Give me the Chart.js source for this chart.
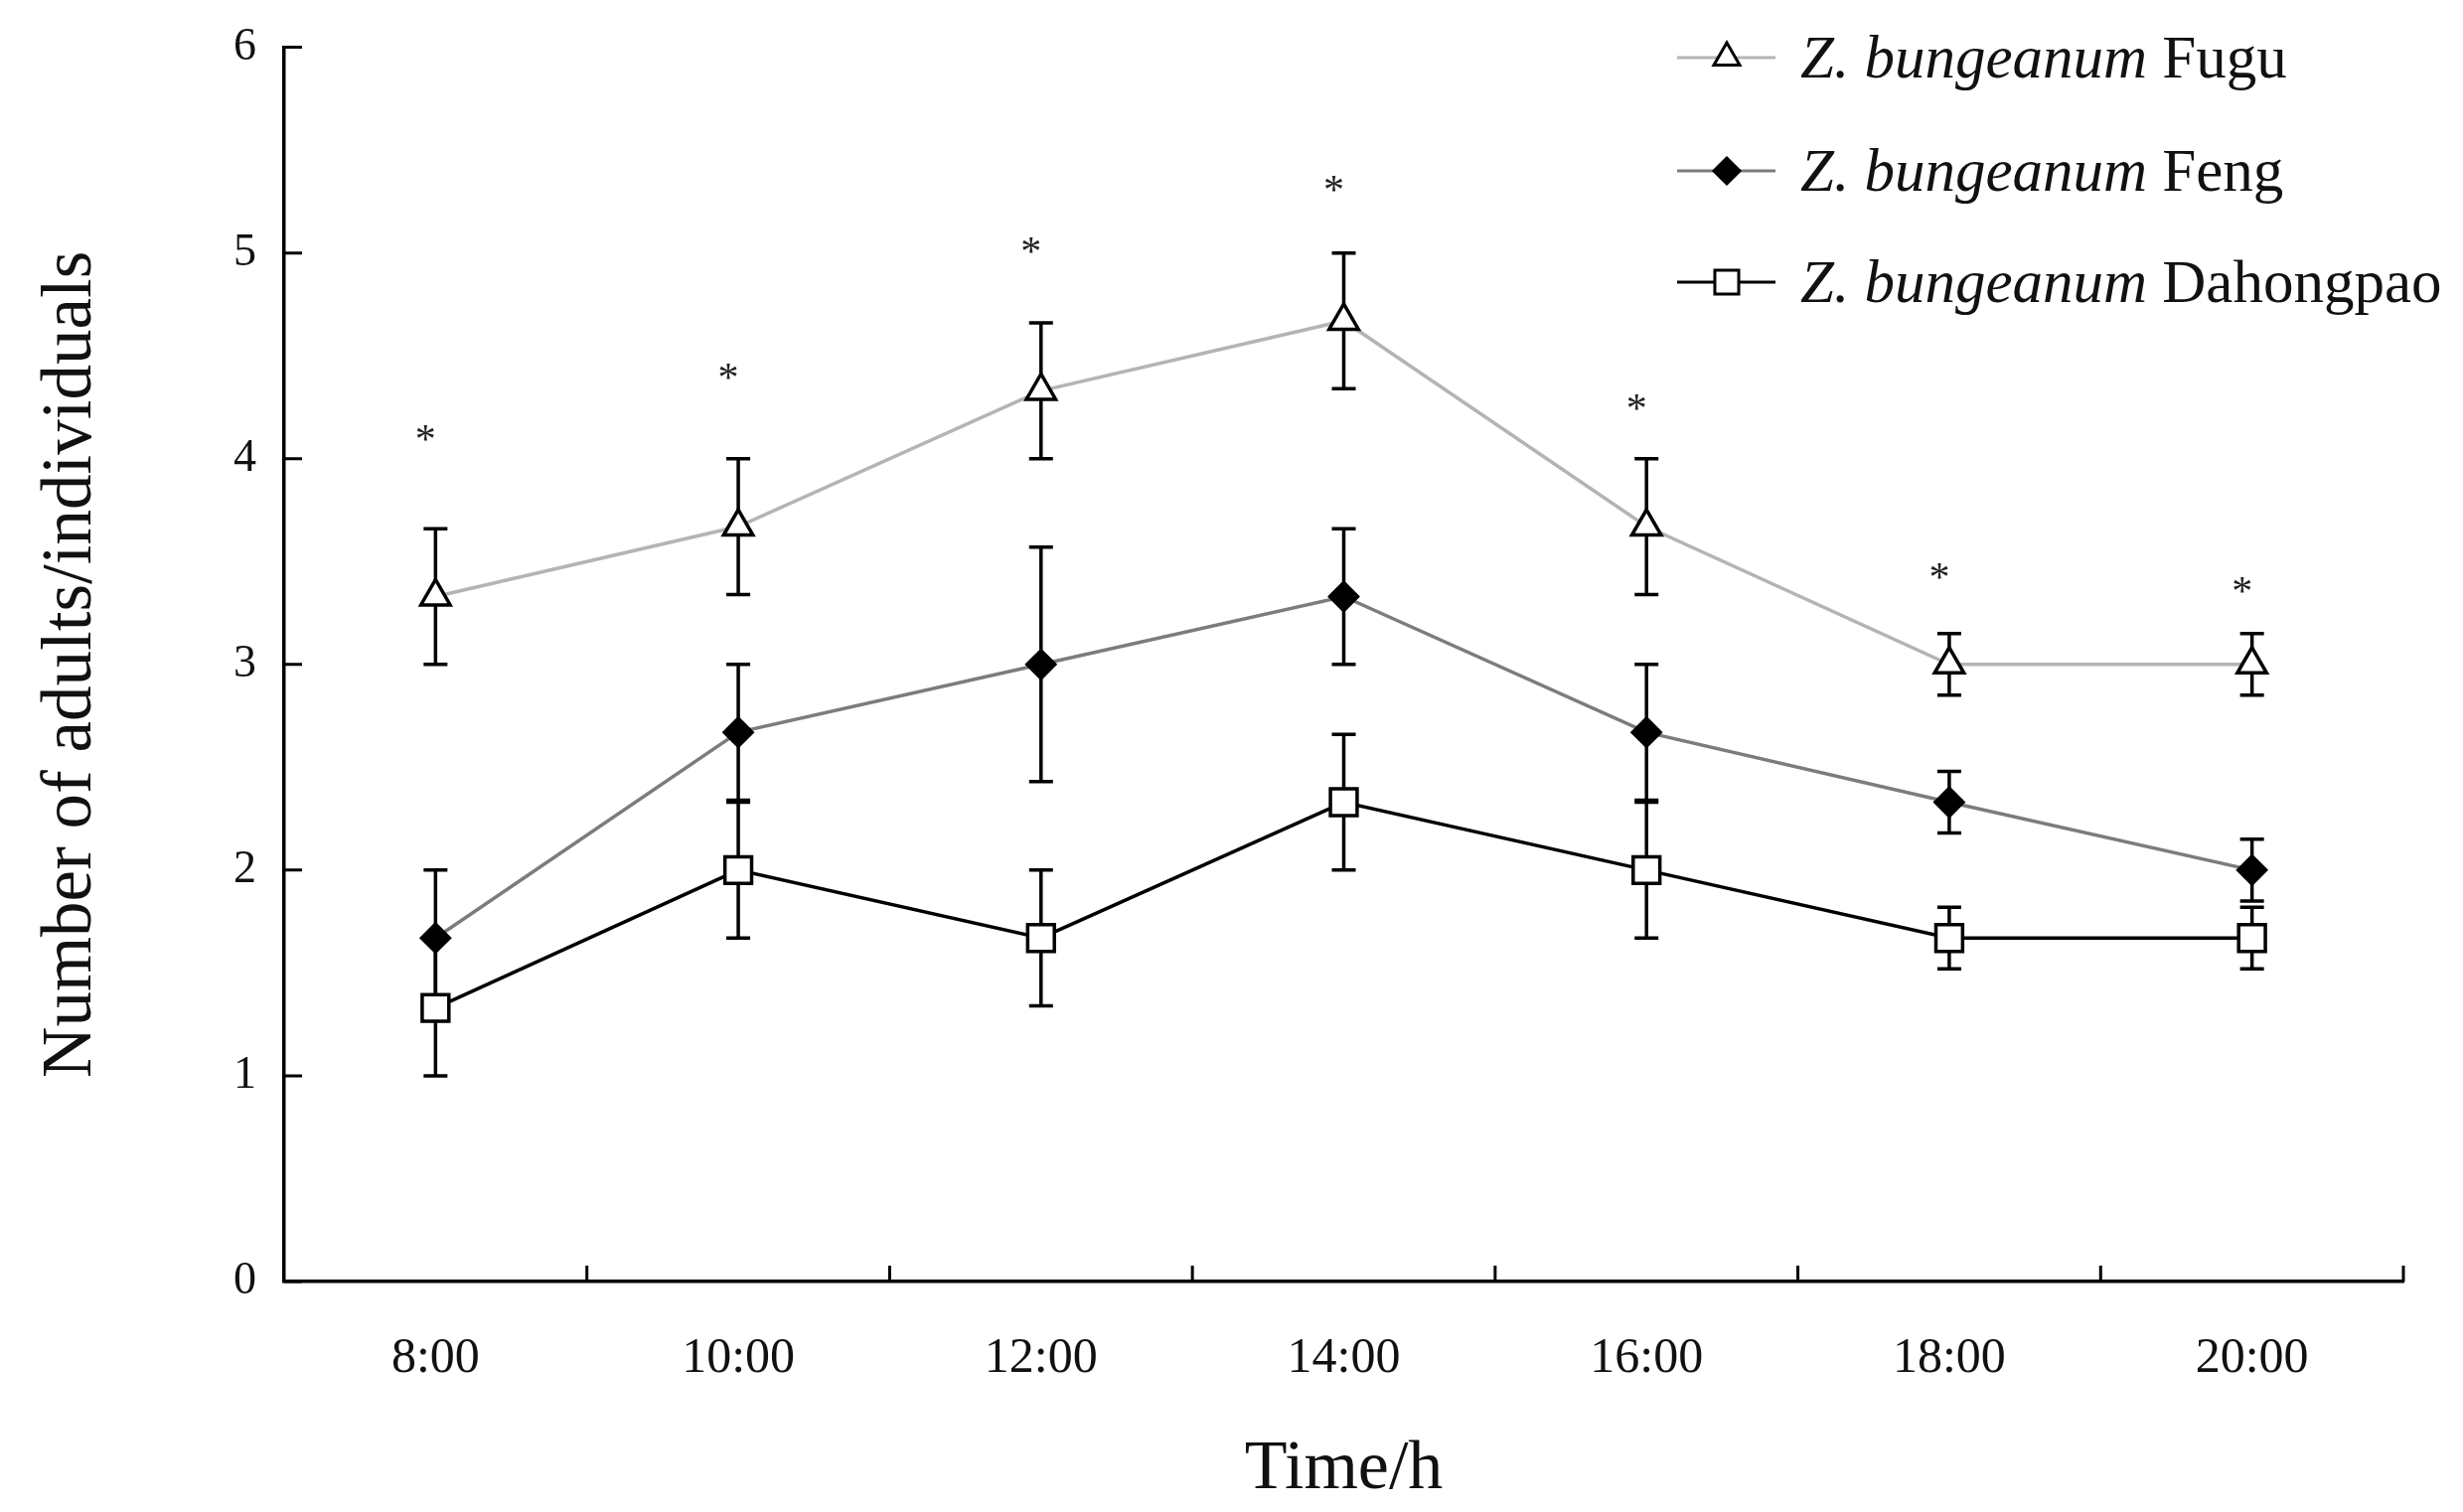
<!DOCTYPE html>
<html lang="en">
<head>
    <meta charset="UTF-8">
    <title>Number of adults over time</title>
    <script src="https://cdn.jsdelivr.net/npm/chart.js"></script>
    <style>
        body {
            margin: 0;
            background: #fff;
        }
        canvas {
            display: block;
        }
    </style>
</head>
<body>
    <canvas id="adultChart" width="2479" height="1522"></canvas>

    <script>
        // data
        const times = ['8:00', '10:00', '12:00', '14:00', '16:00', '18:00', '20:00'];
        const seriesNames = ['Fugu', 'Feng', 'Dahongpao'];

        const fuguMean = [3.33, 3.67, 4.33, 4.67, 3.67, 3.0, 3.0];
        const fuguErr = [0.33, 0.33, 0.33, 0.33, 0.33, 0.15, 0.15];
        const fengMean = [1.67, 2.67, 3.0, 3.33, 2.67, 2.33, 2.0];
        const fengErr = [0.33, 0.33, 0.57, 0.33, 0.33, 0.15, 0.15];
        const dahongpaoMean = [1.33, 2.0, 1.67, 2.33, 2.0, 1.67, 1.67];
        const dahongpaoErr = [0.33, 0.33, 0.33, 0.33, 0.33, 0.15, 0.15];

        // significance marks (*) above each time point
        const starY = [4.12, 4.42, 5.03, 5.33, 4.27, 3.45, 3.38];

        const yTicks = [0, 1, 2, 3, 4, 5, 6];

        const serif = "'Liberation Serif', 'Times New Roman', serif";

        // error bars, drawn under the markers
        const errorBars = {
            id: 'errorBars',
            beforeDatasetsDraw(chart) {
                const ctx = chart.ctx;
                const x = chart.scales.x, y = chart.scales.y;
                ctx.save();
                ctx.strokeStyle = '#000';
                ctx.lineWidth = 3.5;
                chart.data.datasets.forEach(ds => {
                    ds.data.forEach((v, i) => {
                        const px = x.getPixelForValue(i);
                        const top = y.getPixelForValue(v + ds.err[i]);
                        const bot = y.getPixelForValue(v - ds.err[i]);
                        ctx.beginPath();
                        ctx.moveTo(px, top); ctx.lineTo(px, bot);
                        ctx.moveTo(px - 12, top); ctx.lineTo(px + 12, top);
                        ctx.moveTo(px - 12, bot); ctx.lineTo(px + 12, bot);
                        ctx.stroke();
                    });
                });
                ctx.restore();
            }
        };

        // asterisks, inward tick marks and the legend
        const extras = {
            id: 'extras',
            afterDraw(chart) {
                const ctx = chart.ctx;
                const x = chart.scales.x, y = chart.scales.y;
                const area = chart.chartArea;
                ctx.save();

                // inward ticks
                ctx.strokeStyle = '#000';
                ctx.lineWidth = 3;
                ctx.beginPath();
                yTicks.forEach(t => {
                    const py = y.getPixelForValue(t);
                    ctx.moveTo(area.left, py); ctx.lineTo(area.left + 18, py);
                });
                const step = (area.right - area.left) / times.length;
                for (let k = 1; k <= times.length; k++) {
                    const px = x.getPixelForValue(k - 1) + step / 2;
                    ctx.moveTo(px, area.bottom); ctx.lineTo(px, area.bottom - 16);
                }
                ctx.stroke();

                // asterisks
                ctx.fillStyle = '#222';
                ctx.font = '42px ' + serif;
                ctx.textAlign = 'center';
                ctx.textBaseline = 'alphabetic';
                starY.forEach((v, i) => {
                    ctx.fillText('*', x.getPixelForValue(i) - 10, y.getPixelForValue(v) + 19);
                });

                // legend
                const rows = [58, 172, 284];
                chart.data.datasets.forEach((ds, i) => {
                    const ly = rows[i];
                    ctx.strokeStyle = ds.borderColor;
                    ctx.lineWidth = 3;
                    ctx.beginPath();
                    ctx.moveTo(1688, ly); ctx.lineTo(1787, ly);
                    ctx.stroke();
                    ctx.fillStyle = ds.pointBackgroundColor;
                    ctx.strokeStyle = ds.pointBorderColor;
                    ctx.lineWidth = 3;
                    Chart.helpers.drawPoint(ctx, {
                        pointStyle: ds.pointStyle,
                        radius: ds.pointRadius - 2,
                        rotation: 0,
                        borderWidth: 3
                    }, 1738, ly);

                    ctx.fillStyle = '#111';
                    ctx.textAlign = 'left';
                    ctx.textBaseline = 'middle';
                    ctx.font = 'italic 61px ' + serif;
                    const lead = 'Z. bungeanum ';
                    ctx.fillText(lead, 1812, ly + 4);
                    const w = ctx.measureText(lead).width;
                    ctx.font = '61px ' + serif;
                    ctx.fillText(seriesNames[i], 1812 + w, ly + 4);
                });

                ctx.restore();
            }
        };

        const ctx = document.getElementById('adultChart').getContext('2d');
        new Chart(ctx, {
            type: 'line',
            data: {
                labels: times,
                datasets: [
                    {
                        label: 'Z. bungeanum ' + seriesNames[0],
                        data: fuguMean,
                        err: fuguErr,
                        borderColor: '#b4b4b4',
                        borderWidth: 3.5,
                        pointStyle: 'triangle',
                        pointRadius: 17,
                        pointBackgroundColor: '#fff',
                        pointBorderColor: '#000',
                        pointBorderWidth: 3.5,
                        tension: 0
                    },
                    {
                        label: 'Z. bungeanum ' + seriesNames[1],
                        data: fengMean,
                        err: fengErr,
                        borderColor: '#7c7c7c',
                        borderWidth: 3.5,
                        pointStyle: 'rectRot',
                        pointRadius: 15,
                        pointBackgroundColor: '#000',
                        pointBorderColor: '#000',
                        pointBorderWidth: 2,
                        tension: 0
                    },
                    {
                        label: 'Z. bungeanum ' + seriesNames[2],
                        data: dahongpaoMean,
                        err: dahongpaoErr,
                        borderColor: '#000',
                        borderWidth: 3.5,
                        pointStyle: 'rect',
                        pointRadius: 19,
                        pointBackgroundColor: '#fff',
                        pointBorderColor: '#000',
                        pointBorderWidth: 3.5,
                        tension: 0
                    }
                ]
            },
            options: {
                responsive: false,
                devicePixelRatio: 1,
                animation: false,
                layout: {
                    padding: { top: 44, right: 60, bottom: 0, left: 0 }
                },
                plugins: {
                    legend: { display: false },
                    tooltip: { enabled: false }
                },
                scales: {
                    x: {
                        type: 'category',
                        offset: true,
                        grid: { display: false },
                        border: { display: true, color: '#000', width: 3.5 },
                        ticks: {
                            color: '#111',
                            padding: 40,
                            maxRotation: 0,
                            font: { family: serif, size: 50 }
                        },
                        title: {
                            display: true,
                            text: 'Time/h',
                            color: '#111',
                            padding: { top: 4, bottom: 0 },
                            font: { family: serif, size: 70 }
                        },
                        afterFit(scale) { scale.height = 232; }
                    },
                    y: {
                        min: 0,
                        max: 6,
                        grid: { display: false },
                        border: { display: true, color: '#000', width: 3.5 },
                        afterBuildTicks(scale) {
                            scale.ticks = yTicks.map(v => ({ value: v }));
                        },
                        ticks: {
                            color: '#111',
                            padding: 20,
                            font: { family: serif, size: 46 }
                        },
                        title: {
                            display: true,
                            text: 'Number of adults/individuals',
                            color: '#111',
                            padding: { top: 30, bottom: 30 },
                            font: { family: serif, size: 71 }
                        },
                        afterFit(scale) { scale.width = 286; }
                    }
                }
            },
            plugins: [errorBars, extras]
        });
    </script>
</body>
</html>
